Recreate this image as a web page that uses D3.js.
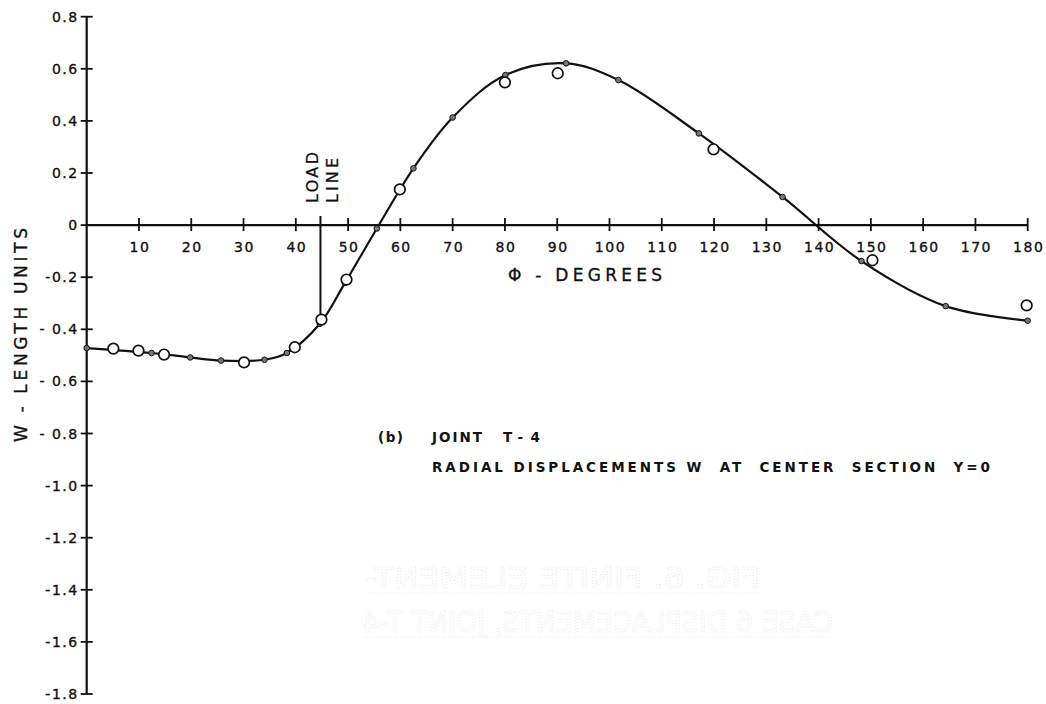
<!DOCTYPE html>
<html>
<head>
<meta charset="utf-8">
<script src="https://cdn.jsdelivr.net/npm/d3@7"></script>
<style>
    html, body { margin: 0; padding: 0; background: #fff; }
    svg { display: block; }
    text { font-family: "DejaVu Sans", sans-serif; fill: #111; }
</style>
</head>
<body>
<svg id="chart" width="1046" height="704"></svg>
<script>
// computed (finite element) points - small filled dots, the curve goes through them
const calcDeg = [0, 12.4, 19.8, 25.7, 34, 38.3, 44.6, 49.4, 55.5, 62.5, 70, 80.1, 91.7, 101.7, 117.1, 133.1, 148.2, 164.3, 180];
const calcW   = [-0.472, -0.491, -0.508, -0.52, -0.517, -0.491, -0.379, -0.222, -0.013, 0.218, 0.413, 0.576, 0.621, 0.557, 0.352, 0.108, -0.138, -0.311, -0.367];

// test points - open circles
const testDeg = [5.1, 9.9, 14.8, 30.1, 39.8, 44.9, 49.7, 59.9, 80, 90.1, 119.9, 150.3, 179.8];
const testW   = [-0.474, -0.482, -0.497, -0.527, -0.469, -0.363, -0.209, 0.137, 0.548, 0.583, 0.291, -0.135, -0.308];

const xTicks = [10, 20, 30, 40, 50, 60, 70, 80, 90, 100, 110, 120, 130, 140, 150, 160, 170, 180];
const yTicks = [0.8, 0.6, 0.4, 0.2, 0, -0.2, -0.4, -0.6, -0.8, -1.0, -1.2, -1.4, -1.6, -1.8];
const yTickLabels = ["0.8", "0.6", "0.4", "0.2", "0", "-0.2", "- 0.4", "- 0.6", "- 0.8", "-1.0", "-1.2", "-1.4", "-1.6", "-1.8"];

const loadAngle = 45;
const loadTop = 0.035;
const loadBottom = -0.375;

const svg = d3.select("#chart");

const x = d3.scaleLinear().domain([0, 180]).range([86.7, 1027.7]);
const y = d3.scaleLinear().domain([-1.8, 0.8]).range([694, 16.7]);

// faint bleed-through from the back of the page (mirrored)
const ghost = svg.append("g").attr("class", "ghost")
    .style("fill", "none").style("stroke", "#e2e2e2").style("stroke-width", 0.7)
    .style("stroke-dasharray", "1,2");
[["FIG. 6.  FINITE  ELEMENT-", 365, 760, 588],
 ["CASE  6  DISPLACEMENTS,  JOINT  T-4", 362, 833, 632]].forEach(([t, x0, x1, base]) => {
    const g = ghost.append("g").attr("transform", `translate(${x1},0) scale(-1,1)`);
    g.append("text").attr("x", 0).attr("y", base)
        .attr("textLength", x1 - x0).attr("lengthAdjust", "spacingAndGlyphs")
        .style("font-size", "29px").style("fill", "none").style("stroke", "#e2e2e2")
        .text(t);
    g.append("line").attr("x1", 0).attr("x2", x1 - x0).attr("y1", base + 5).attr("y2", base + 5);
});

// axes
const axisG = svg.append("g").attr("stroke", "#111").attr("stroke-width", 2.2);
axisG.append("line").attr("x1", x(0)).attr("x2", x(180)).attr("y1", y(0)).attr("y2", y(0));
axisG.append("line").attr("x1", x(0)).attr("x2", x(0)).attr("y1", y(0.8)).attr("y2", y(-1.8));

axisG.selectAll(".xt").data(xTicks).enter().append("line")
    .attr("x1", d => x(d)).attr("x2", d => x(d))
    .attr("y1", y(0) - 7).attr("y2", y(0) + 6)
    .attr("stroke-width", 1.8);

axisG.selectAll(".yt").data(yTicks).enter().append("line")
    .attr("x1", x(0) - 6).attr("x2", x(0) + 6)
    .attr("y1", d => y(d)).attr("y2", d => y(d))
    .attr("stroke-width", 1.8);

const tickStyle = sel => sel
    .style("font-size", "14px").style("letter-spacing", "1.5px")
    .style("stroke", "#111").style("stroke-width", 0.35);

svg.selectAll(".xl").data(xTicks).enter().append("text")
    .attr("x", d => x(d) + 1).attr("y", y(0) + 27)
    .attr("text-anchor", "middle")
    .call(tickStyle)
    .text(d => d);

svg.selectAll(".yl").data(yTicks).enter().append("text")
    .attr("x", x(0) - 8).attr("y", d => y(d) + 5)
    .attr("text-anchor", "end")
    .call(tickStyle)
    .text((d, i) => yTickLabels[i]);

// axis titles
svg.append("text")
    .attr("transform", `translate(27, 335) rotate(-90)`)
    .attr("text-anchor", "middle")
    .attr("textLength", 214).attr("lengthAdjust", "spacing")
    .style("font-size", "17px").style("stroke", "#111").style("stroke-width", 0.35)
    .text("W - LENGTH UNITS");

svg.append("text")
    .attr("x", 508).attr("y", 281)
    .attr("textLength", 154).attr("lengthAdjust", "spacing")
    .style("font-size", "17px").style("stroke", "#111").style("stroke-width", 0.35)
    .text("Φ - DEGREES");

// load line
svg.append("line")
    .attr("x1", x(loadAngle) - 1.5).attr("x2", x(loadAngle) - 1.5)
    .attr("y1", y(loadTop)).attr("y2", y(loadBottom))
    .attr("stroke", "#111").attr("stroke-width", 2);

svg.append("text")
    .attr("transform", `translate(318, 203) rotate(-90)`)
    .attr("textLength", 51).attr("lengthAdjust", "spacing")
    .style("font-size", "16px").style("stroke", "#111").style("stroke-width", 0.3)
    .text("LOAD");
svg.append("text")
    .attr("transform", `translate(338, 203) rotate(-90)`)
    .attr("textLength", 45).attr("lengthAdjust", "spacing")
    .style("font-size", "16px").style("stroke", "#111").style("stroke-width", 0.3)
    .text("LINE");

// curve through computed points
const calc = calcDeg.map((d, i) => ({ deg: d, w: calcW[i] }));
const test = testDeg.map((d, i) => ({ deg: d, w: testW[i] }));

svg.append("path")
    .datum(calc)
    .attr("fill", "none")
    .attr("stroke", "#111")
    .attr("stroke-width", 2.2)
    .attr("d", d3.line()
        .x(d => x(d.deg))
        .y(d => y(d.w))
        .curve(d3.curveCatmullRom.alpha(0.5)));

svg.selectAll(".calc").data(calc).enter().append("circle")
    .attr("cx", d => x(d.deg)).attr("cy", d => y(d.w))
    .attr("r", 2.8)
    .attr("fill", "#777").attr("stroke", "#111").attr("stroke-width", 1);

svg.selectAll(".test").data(test).enter().append("circle")
    .attr("cx", d => x(d.deg)).attr("cy", d => y(d.w))
    .attr("r", 5.3)
    .attr("fill", "#fff").attr("stroke", "#111").attr("stroke-width", 1.7);

// caption
const cap = svg.append("g").style("font-size", "13.5px").style("font-weight", "bold");
cap.append("text").attr("x", 378).attr("y", 442).attr("textLength", 25).text("(b)");
cap.append("text").attr("x", 432).attr("y", 442).attr("textLength", 50).attr("lengthAdjust", "spacing").text("JOINT");
cap.append("text").attr("x", 503).attr("y", 442).attr("textLength", 37).attr("lengthAdjust", "spacing").text("T-4");
cap.append("text").attr("x", 432).attr("y", 472).attr("textLength", 558).attr("lengthAdjust", "spacing")
    .attr("xml:space", "preserve")
    .text("RADIAL DISPLACEMENTS W  AT  CENTER  SECTION  Y=0");
</script>
</body>
</html>
